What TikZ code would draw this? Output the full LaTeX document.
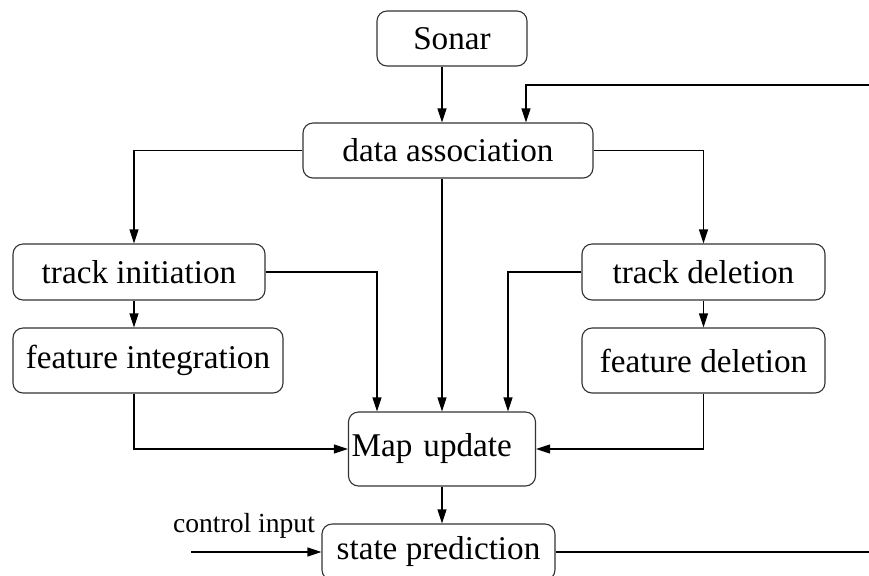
\documentclass[tikz,border=0pt]{standalone}
\usepackage{fontspec}
\setmainfont{Liberation Serif}
\usetikzlibrary{arrows.meta}

\begin{document}
\begin{tikzpicture}
  [x=0.5pt,y=-0.5pt,line width=0.55pt,>={Triangle[length=7pt,width=4.5pt]}]
  \tikzstyle{box} = [draw=black!80,rounded corners=5pt,inner sep=0pt,font=\fontsize{16.6}{20}\selectfont]
  \useasboundingbox (0,0) rectangle (869,575);
  \clip (0,0) rectangle (869,575);
  \node[box,minimum width=75pt,minimum height=27.5pt] (sonar) at (452,38.5) {Sonar};
  \node[box,minimum width=145pt,minimum height=27.5pt] (assoc) at (448,150.5) {data association};
  \node[box,minimum width=126pt,minimum height=28pt] (init) at (139,272) {track initiation};
  \node[box,minimum width=135pt,minimum height=32.5pt] (integ) at (148,360.5) {feature integration};
  \node[box,minimum width=121.5pt,minimum height=28pt] (del) at (703.5,272) {track deletion};
  \node[box,minimum width=121.5pt,minimum height=32.5pt] (fdel) at (703.5,360.5) {feature deletion};
  \node[box,minimum height=37pt,inner xsep=1.5pt,text width=90.5pt,align=left] (map) at (442,449) {Map update};
  \node[box,minimum width=116.5pt,minimum height=28pt] (pred) at (438.5,552) {state prediction};
  \node[font=\fontsize{13.8}{16}\selectfont,anchor=base] (ctrllabel) at (244,532) {control input};
  \coordinate (lcol) at (134,0);
  \coordinate (ctrl) at (191,552);
  \coordinate (fbin) at (869,85);
  \coordinate (fbcorner) at (526,85);
  \coordinate (fbout) at (869,552);

  % left branch
  \draw[->] (assoc.west) -| (init.north -| lcol);
  \draw[->] (init.south -| lcol) -- (integ.north -| lcol);
  \draw[->] (integ.south -| lcol) |- (map.west);
  \draw[->] (init.east) -| ([xshift=-32.5pt]map.north);
  % right branch
  \draw[->] (assoc.east) -| (del.north);
  \draw[->] (del) -- (fdel);
  \draw[->] (fdel.south) |- (map.east);
  \draw[->] (del.west) -| ([xshift=33pt]map.north);
  % middle
  \draw[->] (sonar.south -| map) -- (assoc.north -| map);
  \draw[->] (assoc.south -| map) -- (map.north);
  \draw[->] (map.south) -- (map.south |- pred.north);
  \draw[->] (ctrl) -- (pred.west);
  \draw (pred.east) -- (fbout);
  \draw[->] (fbin) -- (fbcorner) -- (fbcorner |- assoc.north);
\end{tikzpicture}
\end{document}
